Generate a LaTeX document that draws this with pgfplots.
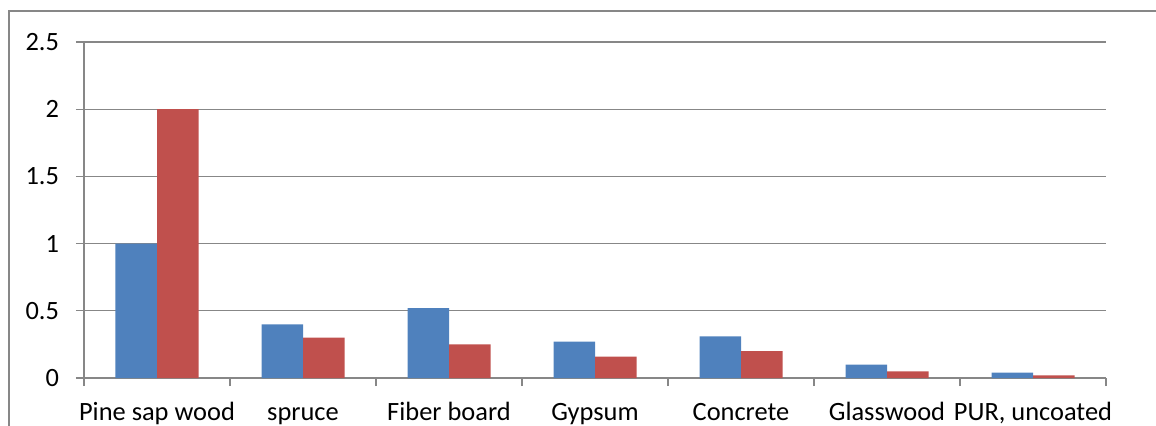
\documentclass[border=0pt]{standalone}
\usepackage{fontspec}
\setmainfont{Carlito}
\usepackage{pgfplots}
\pgfplotsset{compat=1.18}

\definecolor{barblue}{HTML}{4F81BD}
\definecolor{barred}{HTML}{C0504D}
\definecolor{gridgray}{HTML}{878787}

\begin{document}
\begin{tikzpicture}
% page area and outer chart frame
\useasboundingbox (-42pt,-23.5pt) rectangle (536pt,189pt);
\draw[gridgray, line width=0.6pt] (-37.5pt,-60pt) rectangle (600pt,183.5pt);
\begin{axis}[
  at={(0,0)}, anchor=south west,
  scale only axis,
  width=511pt, height=168pt,
  ybar=0pt, bar width=20.75pt,
  xmin=-0.5, xmax=6.5,
  ymin=0, ymax=2.5,
  ytick={0,0.5,...,2.5},
  yticklabels={0,0.5,1,1.5,2,2.5},
  xtick={0,...,6},
  xticklabels={Pine sap wood, spruce, Fiber board, Gypsum, Concrete, Glasswood, {PUR, uncoated}},
  minor xtick={-0.5,0.5,...,6.5},
  axis x line*=bottom,
  axis y line*=left,
  axis line style={gridgray, line width=0.6pt},
  ymajorgrids,
  major grid style={gridgray, line width=0.6pt},
  tick align=outside,
  major tick length=4pt,
  minor tick length=4pt,
  x tick style={draw=none},
  minor x tick style={draw=gridgray, line width=0.6pt},
  y tick style={gridgray, line width=0.6pt},
  tick label style={font=\fontsize{13.2}{15}\selectfont, text=black},
  /pgf/number format/assume math mode=true,
  yticklabel style={xshift=-5pt},
  xticklabel style={anchor=base, yshift=-17.2pt},
]
\addplot[fill=barblue, draw=none] coordinates {
  (0,1.00) (1,0.40) (2,0.52) (3,0.27) (4,0.31) (5,0.10) (6,0.04)};
\addplot[fill=barred, draw=none] coordinates {
  (0,2.00) (1,0.30) (2,0.25) (3,0.16) (4,0.20) (5,0.05) (6,0.02)};
\end{axis}
\end{tikzpicture}
\end{document}
